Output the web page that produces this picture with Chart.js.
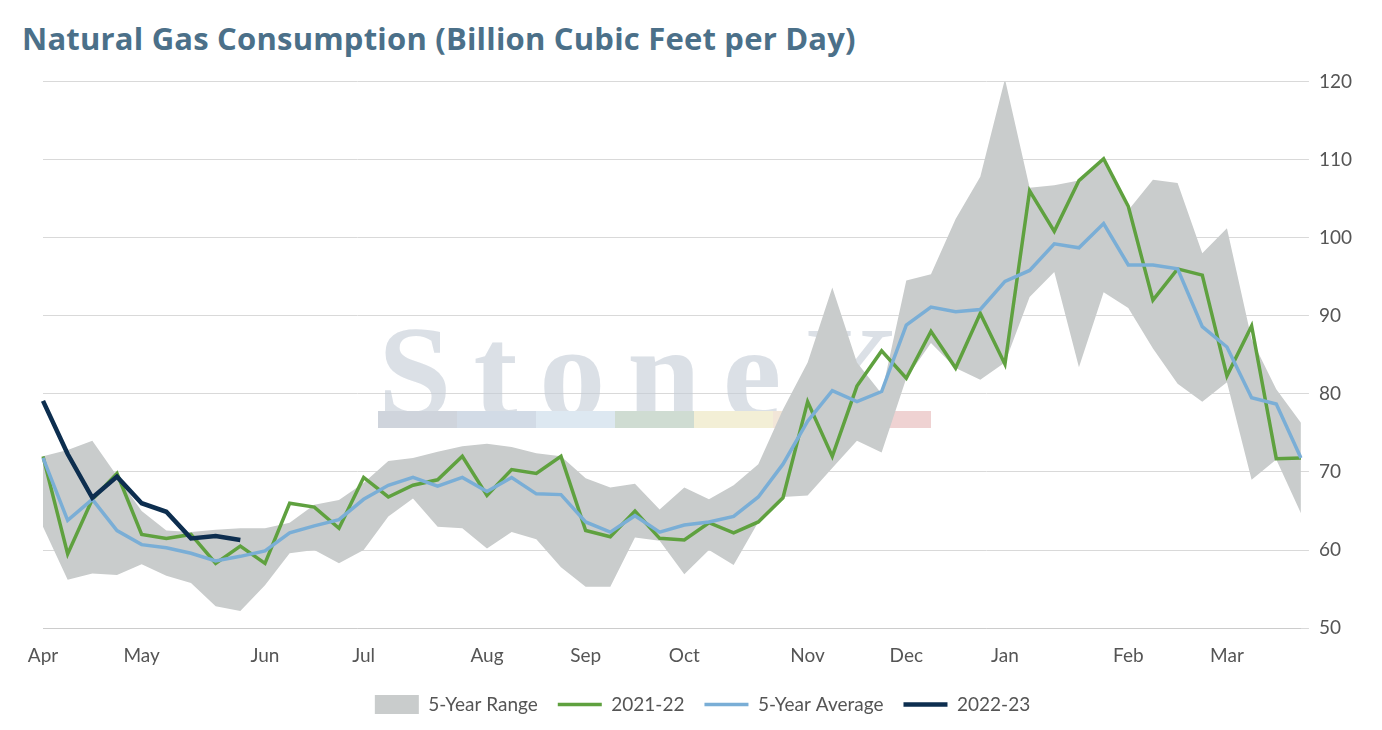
<!DOCTYPE html>
<html><head><meta charset="utf-8">
<script src="https://cdn.jsdelivr.net/npm/chart.js@4"></script>
<style>body{margin:0;background:#fff;font-family:Lato,sans-serif}
#t{position:absolute;left:22px;top:17px;font:bold 31px "Open Sans",sans-serif;color:#4b7089;letter-spacing:0.2px}
#w{position:absolute;left:0;top:60px;width:1382px;height:670px}</style></head>
<body><div id="t">Natural Gas Consumption (Billion Cubic Feet per Day)</div>
<div id="w"><canvas id="c"></canvas></div>
<script>
const monthAt={0:'Apr',4:'May',9:'Jun',13:'Jul',18:'Aug',22:'Sep',26:'Oct',31:'Nov',35:'Dec',39:'Jan',44:'Feb',48:'Mar'};
const labels=Array.from({length:52},(_,i)=>monthAt[i]||'');
const rangeHigh=[72,72.8,74,69.5,65,62.5,62.3,62.6,62.8,62.8,63.5,65.8,66.4,68.6,71.4,71.8,72.6,73.3,73.6,73.2,72.4,72,69.2,68,68.5,65.2,68,66.5,68.3,71,78,84,93.6,84,80,94.5,95.3,102.4,107.8,120.3,106.4,106.7,107.3,110.1,103.5,107.4,107,98,101.2,87,80.6,76.3];
const rangeLow=[63,56.2,57,56.8,58.2,56.7,55.8,52.8,52.2,55.5,59.6,60,58.3,60,64.3,66.6,63,62.8,60.2,62.3,61.4,57.8,55.3,55.3,61.6,61.2,56.9,60,58.1,63.6,66.8,67,70.5,74,72.5,82,86.5,83.3,81.8,84,92.4,95.6,83.4,93,91,85.8,81.3,79,81.5,69,71.6,64.7];
const y2122=[72,59.5,66.5,69.8,62,61.5,62,58.3,60.5,58.3,66,65.5,62.8,69.3,66.8,68.3,69,72,67,70.3,69.8,72,62.5,61.7,65,61.5,61.3,63.5,62.2,63.6,66.7,79,72,81,85.5,82,88,83.3,90.3,83.8,106,100.8,107.3,110.1,104,92,96,95.2,82.3,88.7,71.7,71.8];
const avg5=[71.8,63.8,66.5,62.5,60.7,60.3,59.6,58.6,59.2,59.9,62.2,63.1,63.9,66.5,68.3,69.3,68.2,69.3,67.5,69.3,67.2,67.1,63.6,62.3,64.4,62.3,63.2,63.6,64.3,66.8,71,76.5,80.4,79,80.3,88.8,91.1,90.5,90.8,94.4,95.8,99.2,98.7,101.8,96.5,96.5,96,88.6,86,79.5,78.7,71.8];
const y2223=[79.1,72.3,66.7,69.4,66,64.9,61.5,61.8,61.3];
const wm={id:'wm',beforeDatasetsDraw(ch){const c=ch.ctx;c.save();c.fillStyle='rgba(195,203,214,0.6)';c.font='bold 132px "Liberation Serif",serif';c.letterSpacing='22px';c.fillText('StoneX',378,323);
c.letterSpacing='0px';c.font='14px sans-serif';c.fillText('™',912,228);
const cols=['#cfd4dc','#d2dbe6','#dde8f1','#cfdcd2','#f3efd6','#f2e6d8','#efd2d2'];cols.forEach((k,i)=>{c.fillStyle=k;c.fillRect(378+i*79,351,79,17)});c.restore();}};
Chart.defaults.font.family='Lato,sans-serif';Chart.defaults.color='#666';
new Chart(document.getElementById('c'),{type:'line',data:{labels,datasets:[
{label:'5-Year Range',data:rangeHigh,borderWidth:0,backgroundColor:'#c9cccc',fill:'+1',pointRadius:0,pointStyle:'rect',order:10},
{label:'low',data:rangeLow,borderWidth:0,backgroundColor:'#c9cccc',pointRadius:0,fill:false,order:11},
{label:'2021-22',data:y2122,borderColor:'#5fa13f',borderWidth:3.5,pointRadius:0,pointStyle:'line',backgroundColor:'#5fa13f',order:3},
{label:'5-Year Average',data:avg5,borderColor:'#7aaed6',borderWidth:3.5,pointRadius:0,pointStyle:'line',backgroundColor:'#7aaed6',order:2},
{label:'2022-23',data:y2223,borderColor:'#0d2e4f',borderWidth:4.5,pointRadius:0,pointStyle:'line',backgroundColor:'#0d2e4f',order:1}]},
plugins:[wm],
options:{animation:false,responsive:true,maintainAspectRatio:false,layout:{padding:{left:43,right:20,top:12,bottom:6}},
plugins:{legend:{position:'bottom',labels:{usePointStyle:true,pointStyleWidth:44,font:{size:19},padding:20,color:'#555',filter:i=>i.text!=='low',sort:(a,b)=>a.datasetIndex-b.datasetIndex}},tooltip:{enabled:false}},
scales:{x:{offset:false,grid:{display:false},border:{color:'#ccc'},ticks:{autoSkip:false,maxRotation:0,font:{size:19},color:'#555',padding:8}},
y:{position:'right',min:50,max:120,ticks:{stepSize:10,font:{size:19},color:'#555',padding:10},grid:{color:'#d9d9d9'},border:{display:false}}}}});
</script></body></html>
